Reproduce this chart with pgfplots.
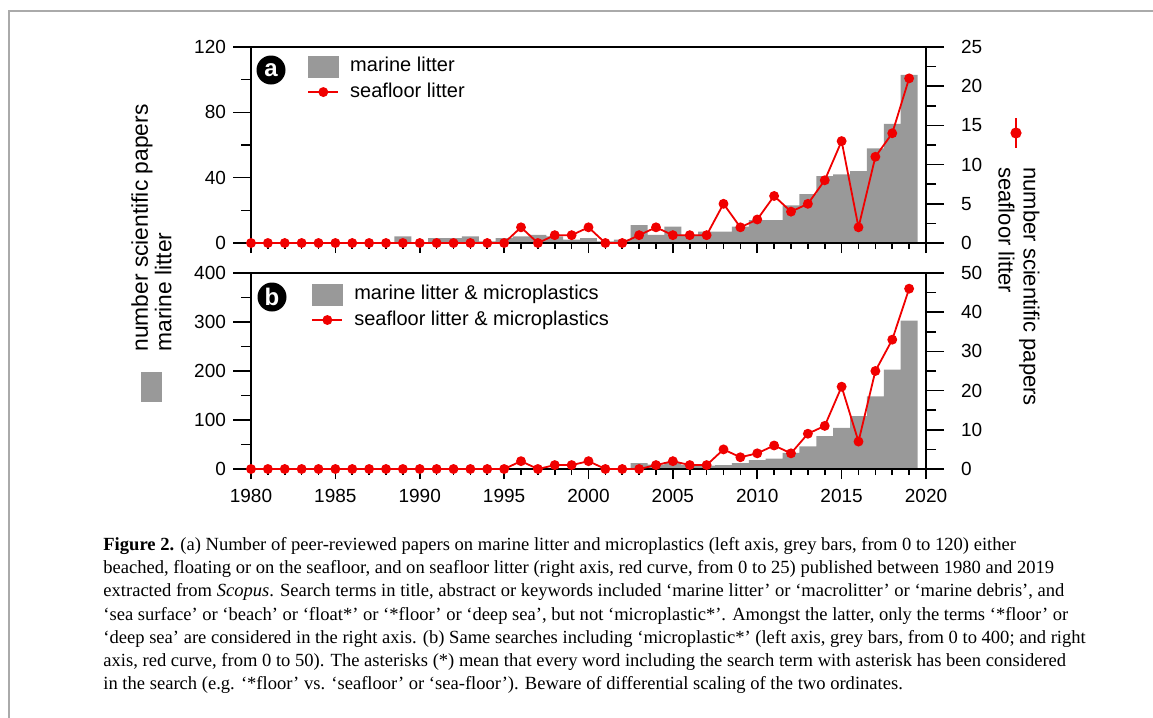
\documentclass[border=0pt]{standalone}
\usepackage{fontspec}
\setmainfont{Liberation Serif}
\newfontfamily\arial{Liberation Sans}
\usepackage{pgfplots}
\pgfplotsset{compat=1.18}
\definecolor{bargray}{RGB}{153,153,153}
\definecolor{myred}{RGB}{240,0,0}
\definecolor{framegray}{RGB}{170,170,170}
\pgfplotsset{
  base/.style={scale only axis, width=337.5pt, height=98pt, xmin=1980, xmax=2020, anchor=south west,
    tick label style={font=\arial\fontsize{9.5}{11}\selectfont},
    /pgf/number format/assume math mode=true, /pgf/number format/1000 sep={},
    axis line style={line width=0.8pt, -}, tick style={black, line width=0.8pt}, tick align=outside},
  leftax/.style={base, ytick pos=left, xtick=\empty, major tick length=9pt, minor tick length=5pt, minor y tick num=1},
  rightax/.style={base, axis y line*=right, axis x line=none, major tick length=9pt, minor tick length=5pt,
    minor y tick num=1, clip=false, yticklabel style={xshift=5pt},
    legend cell align=left,
    legend image code/.code={\draw[mark repeat=2,mark phase=2,#1] plot coordinates {(0pt,0pt) (7.5pt,0pt) (15pt,0pt)};},
    legend style={anchor=north west, draw=none, fill=none, font=\arial\fontsize{10}{12}\selectfont,
      inner sep=0pt, row sep=0.5pt, nodes={inner sep=1.5pt, text height=7.2pt, text depth=2pt},
      /tikz/every odd column/.append style={column sep=4pt}}},
  xax/.style={base, ymin=0, ymax=1, axis y line=none, axis x line*=bottom, xtick={1980,1985,...,2020},
    minor x tick num=4, major tick length=5pt, minor tick length=3pt, xticklabel style={yshift=-1.5pt}},
  redline/.style={myred, line width=0.9pt, mark=*, mark size=2pt, mark options={solid}},
}
\begin{document}
\begin{tikzpicture}
\useasboundingbox (0pt,0pt) rectangle (576.5pt,-359pt);
\draw[framegray, line width=1pt] (4.5pt,-359pt) -- (4.5pt,-5.5pt) -- (576.5pt,-5.5pt);

% ---------- panel a ----------
\begin{axis}[leftax, at={(125.5pt,-121.5pt)}, ymin=0, ymax=120, ytick={0,40,80,120}]
\addplot[ybar, bar width=1, fill=bargray, draw=none] coordinates {
(1980,0) (1981,0) (1982,0) (1983,0) (1984,0) (1985,0) (1986,0) (1987,0) (1988,0) (1989,4)
(1990,0) (1991,3) (1992,3) (1993,4) (1994,1) (1995,3) (1996,4) (1997,5) (1998,4) (1999,2)
(2000,3) (2001,1) (2002,2) (2003,11) (2004,5) (2005,10) (2006,5) (2007,7) (2008,7) (2009,10)
(2010,14) (2011,14) (2012,23) (2013,30) (2014,41) (2015,42) (2016,44) (2017,58) (2018,73) (2019,103)};
\end{axis}
\begin{axis}[xax, at={(125.5pt,-121.5pt)}, xticklabels={}]
\end{axis}
\begin{axis}[rightax, at={(125.5pt,-121.5pt)}, ymin=0, ymax=25, ytick={0,5,...,25},
  legend style={at={(0.083,0.964)}}]
\addlegendimage{legend image code/.code={\fill[bargray] (0pt,-5.25pt) rectangle (15pt,5.25pt);}}
\addlegendentry{marine litter}
\addplot[redline] coordinates {
(1980,0) (1981,0) (1982,0) (1983,0) (1984,0) (1985,0) (1986,0) (1987,0) (1988,0) (1989,0)
(1990,0) (1991,0) (1992,0) (1993,0) (1994,0) (1995,0) (1996,2) (1997,0) (1998,1) (1999,1)
(2000,2) (2001,0) (2002,0) (2003,1) (2004,2) (2005,1) (2006,1) (2007,1) (2008,5) (2009,2)
(2010,3) (2011,6) (2012,4) (2013,5) (2014,8) (2015,13) (2016,2) (2017,11) (2018,14) (2019,21)};
\addlegendentry{seafloor litter}
\end{axis}

% ---------- panel b ----------
\begin{axis}[leftax, at={(125.5pt,-234.5pt)}, ymin=0, ymax=400, ytick={0,100,...,400}]
\addplot[ybar, bar width=1, fill=bargray, draw=none] coordinates {
(1980,0) (1981,0) (1982,0) (1983,0) (1984,0) (1985,0) (1986,0) (1987,0) (1988,0) (1989,0)
(1990,0) (1991,0) (1992,0) (1993,0) (1994,0) (1995,0) (1996,1) (1997,1) (1998,2) (1999,2)
(2000,2) (2001,1) (2002,2) (2003,12) (2004,9) (2005,12) (2006,8) (2007,7) (2008,8) (2009,12)
(2010,18) (2011,21) (2012,33) (2013,46) (2014,67) (2015,84) (2016,108) (2017,148) (2018,203) (2019,303)};
\end{axis}
\begin{axis}[xax, at={(125.5pt,-234.5pt)}]
\end{axis}
\begin{axis}[rightax, at={(125.5pt,-234.5pt)}, ymin=0, ymax=50, ytick={0,10,...,50},
  legend style={at={(0.089,0.954)}}]
\addlegendimage{legend image code/.code={\fill[bargray] (0pt,-5.25pt) rectangle (15pt,5.25pt);}}
\addlegendentry{marine litter \& microplastics}
\addplot[redline] coordinates {
(1980,0) (1981,0) (1982,0) (1983,0) (1984,0) (1985,0) (1986,0) (1987,0) (1988,0) (1989,0)
(1990,0) (1991,0) (1992,0) (1993,0) (1994,0) (1995,0) (1996,2) (1997,0) (1998,1) (1999,1)
(2000,2) (2001,0) (2002,0) (2003,0) (2004,1) (2005,2) (2006,1) (2007,1) (2008,5) (2009,3)
(2010,4) (2011,6) (2012,4) (2013,9) (2014,11) (2015,21) (2016,7) (2017,25) (2018,33) (2019,46)};
\addlegendentry{seafloor litter \& microplastics}
\end{axis}

% panel tags
\node[circle, fill=black, text=white, font=\arial\bfseries\fontsize{12}{12}\selectfont, minimum size=14.5pt, inner sep=0pt] at (135.5pt,-35pt) {a};
\node[circle, fill=black, text=white, font=\arial\bfseries\fontsize{12}{12}\selectfont, minimum size=14.5pt, inner sep=0pt] at (136pt,-148.5pt) {b};

% axis labels
\node[rotate=90, anchor=south west, align=left, inner sep=0pt, font=\arial\fontsize{11.4}{11.8}\selectfont] at (86pt,-176pt) {number scientific papers\\marine litter};
\fill[bargray] (70.5pt,-186pt) rectangle (81pt,-201pt);
\node[rotate=-90, anchor=north west, align=left, inner sep=0pt, font=\arial\fontsize{11}{12.5}\selectfont] at (520pt,-83.5pt) {number scientific papers\\seafloor litter};
\draw[myred, line width=0.9pt] (508pt,-59pt) -- (508pt,-74pt);
\fill[myred] (508pt,-66.5pt) circle (2.8pt);

% caption
\node[anchor=north west, inner sep=0pt, align=left, font=\fontsize{9.28}{11.6}\selectfont] at (51.5pt,-268.5pt) {%
\textbf{Figure 2.} (a) Number of peer-reviewed papers on marine litter and microplastics (left axis, grey bars, from 0 to 120) either\\
beached, floating or on the seafloor, and on seafloor litter (right axis, red curve, from 0 to 25) published between 1980 and 2019\\
extracted from \textit{Scopus}. Search terms in title, abstract or keywords included ‘marine litter’ or ‘macrolitter’ or ‘marine debris’, and\\
‘sea surface’ or ‘beach’ or ‘float*’ or ‘*floor’ or ‘deep sea’, but not ‘microplastic*’. Amongst the latter, only the terms ‘*floor’ or\\
‘deep sea’ are considered in the right axis. (b) Same searches including ‘microplastic*’ (left axis, grey bars, from 0 to 400; and right\\
axis, red curve, from 0 to 50). The asterisks (*) mean that every word including the search term with asterisk has been considered\\
in the search (e.g. ‘*floor’ vs. ‘seafloor’ or ‘sea-floor’). Beware of differential scaling of the two ordinates.};
\end{tikzpicture}
\end{document}
